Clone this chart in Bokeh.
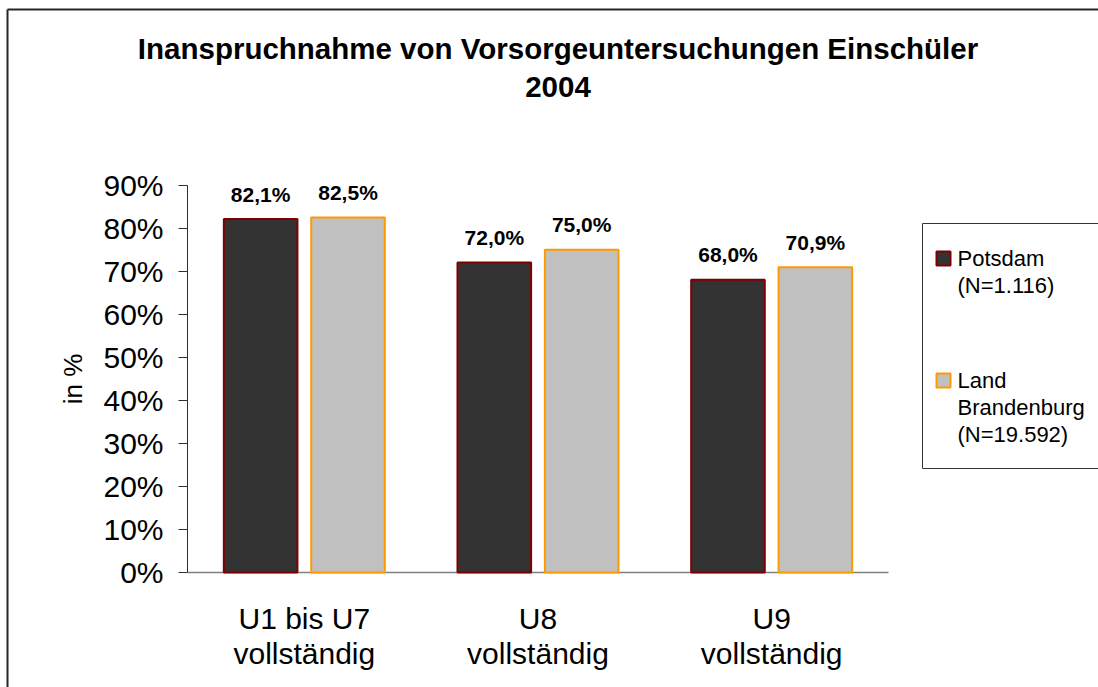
from bokeh.plotting import figure
from bokeh.models import Range1d, FixedTicker
from bokeh.core.properties import value
from bokeh.embed import file_html
from bokeh.resources import INLINE

# ---- data ----
categories = ["U1 bis U7\nvollständig", "U8\nvollständig", "U9\nvollständig"]
potsdam = [82.1, 72.0, 68.0]
brandenburg = [82.5, 75.0, 70.9]
legend_lines = [["Potsdam", "(N=1.116)"], ["Land", "Brandenburg", "(N=19.592)"]]
y_ticks = [0, 10, 20, 30, 40, 50, 60, 70, 80, 90]
y_tick_labels = [f"{t}%" for t in y_ticks]
title_lines = ["Inanspruchnahme von Vorsorgeuntersuchungen Einschüler", "2004"]
y_axis_title = "in %"

FONT = value("Liberation Sans")

# ---- layout (page pixels) ----
W, H = 1098, 687
AX_X = 187          # x position of the value axis
AX_Y = 572          # y position of the category axis
PX_X = 701 / 3      # px per category unit
PX_Y = 387.4 / 90   # px per percent


def px_x(page_x):
    return (page_x - AX_X) / PX_X


def px_y(page_y):
    return (AX_Y - page_y) / PX_Y


x_end = px_x(W)
y_start = px_y(H)
p = figure(width=W, height=H,
           x_range=Range1d(px_x(0), x_end), y_range=Range1d(y_start, px_y(0)),
           output_backend="svg", toolbar_location=None, title_location=None,
           min_border_left=0, min_border_right=0, min_border_top=0, min_border_bottom=0)
p.xgrid.visible = False
p.ygrid.visible = False
p.outline_line_color = None
p.background_fill_color = "white"
p.border_fill_color = "white"

xs = [i + 0.5 for i in range(len(categories))]

# x axis
p.xaxis.fixed_location = 0
p.xaxis.level = "underlay"
p.xaxis.ticker = FixedTicker(ticks=xs)
p.xaxis.major_label_overrides = {x: c for x, c in zip(xs, categories)}
p.xaxis.bounds = (0, len(categories))
p.xaxis.major_tick_line_color = None
p.xaxis.minor_tick_line_color = None
p.xaxis.axis_line_color = "#808080"
p.xaxis.axis_line_width = 1.5
p.xaxis.major_label_text_font = "Liberation Sans"
p.xaxis.major_label_text_font_size = "30px"
p.xaxis.major_label_text_line_height = 1.07
p.xaxis.major_label_text_color = "black"
p.xaxis.major_label_standoff = 23

# y axis
p.yaxis.fixed_location = 0
p.yaxis.ticker = FixedTicker(ticks=y_ticks)
p.yaxis.major_label_overrides = {t: l for t, l in zip(y_ticks, y_tick_labels)}
p.yaxis.bounds = (0, 90)
p.yaxis.major_tick_out = 9
p.yaxis.major_tick_in = 0
p.yaxis.minor_tick_line_color = None
p.yaxis.axis_line_color = "#303030"
p.yaxis.major_tick_line_color = "#303030"
p.yaxis.major_label_text_font = "Liberation Sans"
p.yaxis.major_label_text_font_size = "30px"
p.yaxis.major_label_text_color = "black"
p.yaxis.major_label_standoff = 15
p.yaxis.axis_label = y_axis_title
p.yaxis.axis_label_text_font = "Liberation Sans"
p.yaxis.axis_label_text_font_style = "normal"
p.yaxis.axis_label_text_font_size = "26px"
p.yaxis.axis_label_text_color = "black"
p.yaxis.axis_label_standoff = 12

# bars
off = 0.187
bw = 0.315
x1 = [x - off for x in xs]
x2 = [x + off for x in xs]
p.vbar(x=x1, top=potsdam, width=bw, fill_color="#333333", line_color="#800000", line_width=2)
p.vbar(x=x2, top=brandenburg, width=bw, fill_color="#C0C0C0", line_color="#FF9900", line_width=2)


def fmt(v):
    return f"{v:.1f}".replace(".", ",") + "%"


p.text(x=x1 + x2, y=potsdam + brandenburg, text=[fmt(v) for v in potsdam + brandenburg],
       text_align="center", text_baseline="middle", y_offset=-25,
       text_font=FONT, text_font_style="bold", text_font_size="21px", text_color="black")

# title
p.text(x=[px_x(557.5)] * 2, y=[px_y(47.5), px_y(86)], text=title_lines,
       text_align="center", text_baseline="middle",
       text_font=FONT, text_font_style="bold", text_font_size="29.5px", text_color="black")

# legend frame: top, left and bottom edges (the right edge lies outside the picture)
lg_l, lg_t, lg_b = px_x(922), px_y(223), px_y(468)
p.segment(x0=[lg_l, lg_l, lg_l], y0=[lg_t, lg_t, lg_b],
          x1=[x_end, lg_l, x_end], y1=[lg_t, lg_b, lg_b],
          line_color="#333333", line_width=1)
sq_y = [px_y(258), px_y(380)]
p.scatter(x=[px_x(943)] * 2, y=sq_y, marker="square", size=14,
          fill_color=["#333333", "#C0C0C0"], line_color=["#800000", "#FF9900"], line_width=2)
lx, ly, lt = [], [], []
first_center = [258, 380]
for c0, lines in zip(first_center, legend_lines):
    for k, line in enumerate(lines):
        lx.append(px_x(957))
        ly.append(px_y(c0 + 27 * k))
        lt.append(line)
p.text(x=lx, y=ly, text=lt, text_align="left", text_baseline="middle",
       text_font=FONT, text_font_size="22px", text_color="black")

# outer chart border: left and top edges only
b_l, b_t = px_x(7), px_y(9)
p.segment(x0=[b_l, b_l], y0=[b_t, b_t], x1=[b_l, x_end], y1=[y_start, b_t],
          line_color="#262626", line_width=2, level="overlay")

open("out.html", "w").write(file_html(p, INLINE))
